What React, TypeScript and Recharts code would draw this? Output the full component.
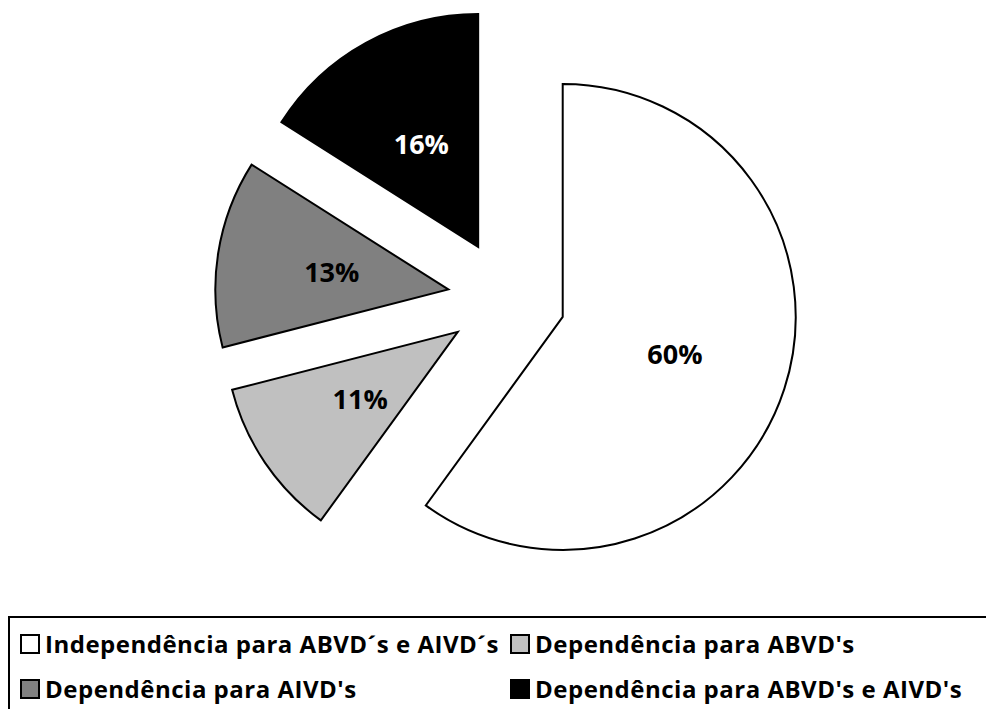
import React from 'react';
import { PieChart, Pie, Cell, Legend } from 'recharts';

const categories = [
  'Independência para ABVD´s e AIVD´s',
  "Dependência para ABVD's",
  "Dependência para AIVD's",
  "Dependência para ABVD's e AIVD's",
];
const values = [60, 11, 13, 16];
const valueLabels = ['60%', '11%', '13%', '16%'];
const colors = ['#FFFFFF', '#C0C0C0', '#808080', '#000000'];
const labelColors = ['#000000', '#000000', '#000000', '#FFFFFF'];

const data = categories.map((name, i) => ({ name, value: values[i], label: valueLabels[i] }));

const FONT = '"Open Sans", "DejaVu Sans", sans-serif';
const CX = 506.6;
const CY = 298.7;
const R = 233;
const EXPLODE = 59;
const LABEL_R = 118;
const RAD = Math.PI / 180;
const total = values.reduce((a, b) => a + b, 0);

const offsets = values.map((v, i) => {
  const cum = values.slice(0, i).reduce((a, b) => a + b, 0);
  const mid = 90 - (360 * (cum + v / 2)) / total;
  return { dx: EXPLODE * Math.cos(mid * RAD), dy: -EXPLODE * Math.sin(mid * RAD) };
});

const makeLabel = (i: number) => (props: any) => {
  const name = props.name ?? props.payload?.name;
  if (name !== categories[i]) return null;
  const x = props.cx + LABEL_R * Math.cos(-props.midAngle * RAD);
  const y = props.cy + LABEL_R * Math.sin(-props.midAngle * RAD);
  return (
    <text
      x={x}
      y={y}
      textAnchor="middle"
      dominantBaseline="central"
      fill={labelColors[i]}
      fontFamily={FONT}
      fontWeight={700}
      fontSize={27}
    >
      {valueLabels[i]}
    </text>
  );
};

const legendPos = [
  { left: 10, top: 10.5 },
  { left: 500, top: 10.5 },
  { left: 10, top: 55.5 },
  { left: 500, top: 55.5 },
];

const LegendContent = () => (
  <div
    style={{
      position: 'relative',
      width: 1000,
      height: 120,
      border: '2px solid #000',
      boxSizing: 'border-box',
      fontFamily: FONT,
      fontWeight: 700,
      fontSize: 24,
      letterSpacing: 0.5,
      color: '#000',
    }}
  >
    {categories.map((c, i) => (
      <div
        key={c}
        style={{
          position: 'absolute',
          left: legendPos[i].left,
          top: legendPos[i].top,
          display: 'flex',
          alignItems: 'center',
          whiteSpace: 'nowrap',
          height: 30,
        }}
      >
        <span
          style={{
            display: 'inline-block',
            width: 16,
            height: 16,
            border: '2px solid #000',
            background: colors[i],
            marginRight: 5,
          }}
        />
        <span>{c}</span>
      </div>
    ))}
  </div>
);

export default function App() {
  return (
    <div style={{ position: 'absolute', left: 0, top: 0, background: '#fff' }}>
      <PieChart width={986} height={709} margin={{ top: 0, right: 0, bottom: 0, left: 0 }}>
        {categories.map((c, i) => (
          <Pie
            key={c}
            data={data}
            dataKey="value"
            nameKey="name"
            cx={CX + offsets[i].dx}
            cy={CY + offsets[i].dy}
            outerRadius={R}
            innerRadius={0}
            startAngle={90}
            endAngle={-270}
            isAnimationActive={false}
            label={makeLabel(i)}
            labelLine={false}
          >
            {data.map((d, j) => (
              <Cell
                key={d.name}
                fill={j === i ? colors[j] : 'none'}
                stroke={j === i ? '#000' : 'none'}
                strokeWidth={j === i ? 2 : 0}
              />
            ))}
          </Pie>
        ))}
        <Legend
          content={<LegendContent />}
          wrapperStyle={{ position: 'absolute', left: 8, top: 616, width: 1000, height: 120 }}
        />
      </PieChart>
    </div>
  );
}
